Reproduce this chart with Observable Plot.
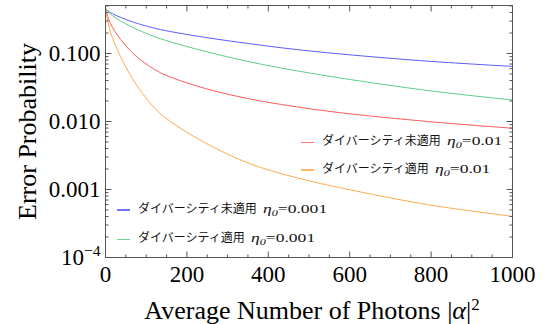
<!DOCTYPE html>
<html><head><meta charset="utf-8">
<script src="https://cdn.jsdelivr.net/npm/d3@7"></script>
<script src="https://cdn.jsdelivr.net/npm/@observablehq/plot@0.6"></script>
<style>
body{margin:0;background:#fff;}
#wrap{position:relative;width:549px;height:324px;overflow:hidden;background:#fff;}
.lg{position:absolute;white-space:nowrap;height:16px;line-height:16px;color:#111;}
.jp{font-family:"Noto Sans CJK JP";font-size:12px;}
.eta{display:inline-block;font-family:"Liberation Serif";font-size:13px;transform:scaleX(1.35);transform-origin:left center;margin-left:6px;}
.eta sub{font-size:9px;vertical-align:-3px;line-height:0;font-style:italic;}
.sw{position:absolute;height:1.3px;width:13px;}
</style></head><body><div id="wrap"></div>
<script>
// ---- data ----
const photons = [0, 12, 37, 60, 86, 135, 246, 356, 455, 577, 799, 1000];
const noDiv001 = [0.46, 0.400, 0.340, 0.301, 0.268, 0.225, 0.172, 0.139, 0.117, 0.0984, 0.0766, 0.0646]; // 未適用 η0=0.001
const div001   = [0.46, 0.380, 0.302, 0.2535, 0.2143, 0.165, 0.107, 0.075, 0.0577, 0.0436, 0.0282, 0.0207]; // 適用 η0=0.001
const noDiv01  = [0.46, 0.277, 0.161, 0.1117, 0.0809, 0.0521, 0.0305, 0.0214, 0.01694, 0.01346, 0.00991, 0.00796]; // 未適用 η0=0.01
const div01    = [0.46, 0.2075, 0.090, 0.0494, 0.0284, 0.01303, 0.00481, 0.00239, 0.00157, 0.00106, 0.000589, 0.000403]; // 適用 η0=0.01

const seriesNames  = ["ダイバーシティ未適用 η0=0.001", "ダイバーシティ適用 η0=0.001", "ダイバーシティ未適用 η0=0.01", "ダイバーシティ適用 η0=0.01"];
const seriesValues = [noDiv001, div001, noDiv01, div01];
const seriesColors = ["#5b5bff", "#5ccf88", "#ff5a5a", "#ffaa4f"];
const legendJp  = ["ダイバーシティ未適用", "ダイバーシティ適用", "ダイバーシティ未適用", "ダイバーシティ適用"];
const legendEta = ["0.001", "0.001", "0.01", "0.01"];

const xTickValues = [0, 200, 400, 600, 800, 1000];
const xMinorTicks = [50,100,150,250,300,350,450,500,550,650,700,750,850,900,950];
const yTickValues = [1e-4, 1e-3, 1e-2, 1e-1];
const yTickLabels = ["10^-4", "0.001", "0.010", "0.100"];
const yMinorTicks = [2e-4,3e-4,4e-4,5e-4,6e-4,7e-4,8e-4,9e-4,2e-3,3e-3,4e-3,5e-3,6e-3,7e-3,8e-3,9e-3,0.02,0.03,0.04,0.05,0.06,0.07,0.08,0.09,0.2,0.3,0.4,0.5];
const xTitle = "Average Number of Photons |α|²";
const yTitle = "Error Probability";

// ---- build ----
const data = seriesNames.flatMap((s, k) => photons.map((x, i) => ({x, y: seriesValues[k][i], s})));
const frameColor = "#555";
const sym = (ux, uy) => ({draw(ctx, size) { const r = Math.sqrt(size / Math.PI); ctx.moveTo(0, 0); ctx.lineTo(ux * r, uy * r); }});
const up = sym(0, -1), down = sym(0, 1), right = sym(1, 0), left = sym(-1, 0);
const tk = {fill: "none", stroke: frameColor, strokeWidth: 1};

const chart = Plot.plot({
  width: 549, height: 324,
  marginLeft: 105, marginRight: 37, marginTop: 5, marginBottom: 67,
  style: {fontFamily: "Liberation Serif", fontSize: "23px", background: "#fff", color: "#000"},
  x: {domain: [0, 1000], ticks: xTickValues, tickFormat: d => String(d), tickSize: 0, tickPadding: 8, label: null},
  y: {type: "log", domain: [1e-4, 0.508], ticks: yTickValues, tickFormat: d => yTickLabels[yTickValues.indexOf(d)], tickSize: 0, tickPadding: 5, label: null},
  color: {domain: seriesNames, range: seriesColors},
  marks: [
    Plot.line(data, {x: "x", y: "y", z: "s", stroke: "s", curve: "catmull-rom", strokeWidth: 1}),
    Plot.frame({stroke: frameColor, strokeWidth: 1}),
    Plot.dot(xTickValues, {x: d => d, frameAnchor: "bottom", symbol: up, r: 6, ...tk}),
    Plot.dot(xMinorTicks, {x: d => d, frameAnchor: "bottom", symbol: up, r: 3, ...tk}),
    Plot.dot(xTickValues, {x: d => d, frameAnchor: "top", symbol: down, r: 6, ...tk}),
    Plot.dot(xMinorTicks, {x: d => d, frameAnchor: "top", symbol: down, r: 3, ...tk}),
    Plot.dot(yTickValues, {y: d => d, frameAnchor: "left", symbol: right, r: 6, ...tk}),
    Plot.dot(yMinorTicks, {y: d => d, frameAnchor: "left", symbol: right, r: 3, ...tk}),
    Plot.dot(yTickValues, {y: d => d, frameAnchor: "right", symbol: left, r: 6, ...tk}),
    Plot.dot(yMinorTicks, {y: d => d, frameAnchor: "right", symbol: left, r: 3, ...tk}),
    Plot.text([xTitle], {text: d => d, frameAnchor: "bottom", textAnchor: "middle", dx: 3, dy: 53, lineAnchor: "middle", fontSize: 26, fontFamily: "Liberation Serif", fill: "#000"}),
    Plot.text([yTitle], {text: d => d, frameAnchor: "left", textAnchor: "middle", dx: -78, rotate: -90, lineAnchor: "middle", fontSize: 26, fontFamily: "Liberation Serif", fill: "#000"})
  ]
});

const wrap = document.getElementById("wrap");
wrap.appendChild(chart);

// rich text fix-ups
d3.select(chart).selectAll("text").each(function() {
  const t = d3.select(this);
  if (this.textContent === "10^-4") {
    t.text("10");
    t.append("tspan").attr("dy", "-0.55em").attr("font-size", "0.68em").text("−4");
  } else if (this.textContent === xTitle) {
    t.text("Average Number of Photons |");
    t.append("tspan").attr("font-style", "italic").text("α");
    t.append("tspan").text("|");
    t.append("tspan").attr("dy", "-0.5em").attr("font-size", "0.65em").text("2");
  }
});

// legends (HTML overlay)
const legendPos = [
  {sx: 117, tx: 138, y: 210},
  {sx: 117, tx: 138, y: 239.5},
  {sx: 301, tx: 322, y: 142.3},
  {sx: 301, tx: 322, y: 170}
];
legendPos.forEach((p, k) => {
  const sw = document.createElement("div");
  sw.className = "sw";
  sw.style.left = p.sx + "px";
  sw.style.top = (p.y - 0.65) + "px";
  sw.style.background = seriesColors[k];
  sw.style.opacity = 0.85;
  wrap.appendChild(sw);
  const lg = document.createElement("div");
  lg.className = "lg";
  lg.style.left = p.tx + "px";
  lg.style.top = (p.y - 2.5 - 8) + "px";
  lg.innerHTML = `<span class="jp">${legendJp[k]}</span><span class="eta"><i>η</i><sub>0</sub>=${legendEta[k]}</span>`;
  wrap.appendChild(lg);
});
</script>
</body></html>
